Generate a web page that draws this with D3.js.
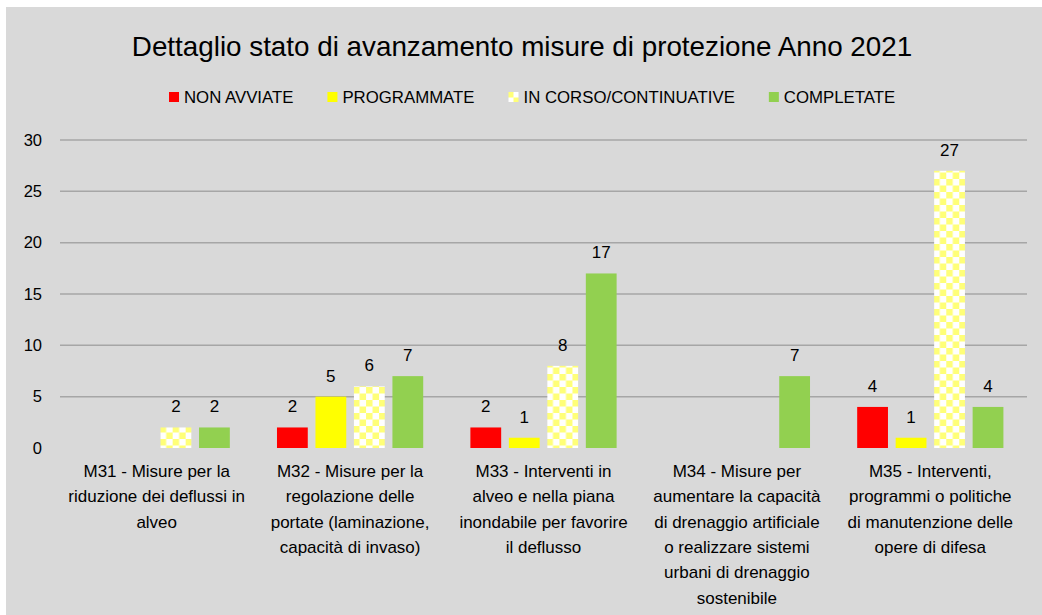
<!DOCTYPE html>
<html>
<head>
<meta charset="utf-8">
<script src="https://cdn.jsdelivr.net/npm/d3@7"></script>
<style>
  body { margin: 0; background: #fff; }
  text { font-family: "Liberation Sans", Arial, sans-serif; fill: #000; }
</style>
</head>
<body>
<div id="chart"></div>
<script>
// data
var categories = [
    "M31 - Misure per la|riduzione dei deflussi in|alveo",
    "M32 - Misure per la|regolazione delle|portate (laminazione,|capacità di invaso)",
    "M33 - Interventi in|alveo e nella piana|inondabile per favorire|il deflusso",
    "M34 - Misure per|aumentare la capacità|di drenaggio artificiale|o realizzare sistemi|urbani di drenaggio|sostenibile",
    "M35 - Interventi,|programmi o politiche|di manutenzione delle|opere di difesa"
];
var seriesNames = ["NON AVVIATE", "PROGRAMMATE", "IN CORSO/CONTINUATIVE", "COMPLETATE"];
var nonAvviate = [null, 2, 2, null, 4];
var programmate = [null, 5, 1, null, 1];
var inCorso = [2, 6, 8, null, 27];
var completate = [2, 7, 17, 7, 4];
var yTicks = [0, 5, 10, 15, 20, 25, 30];

var values = [nonAvviate, programmate, inCorso, completate];
var fills = ["#ff0000", "#ffff00", "url(#checker)", "#92d050"];

var svgWidth = 1042, svgHeight = 615;
var margin = { top: 140, right: 15, bottom: 167, left: 60 };
var width = svgWidth - margin.left - margin.right;
var height = svgHeight - margin.top - margin.bottom;

var svg = d3.select("#chart").append("svg")
    .attr("width", svgWidth)
    .attr("height", svgHeight);

// checker pattern for the "in corso" series
var defs = svg.append("defs");
var pat = defs.append("pattern")
    .attr("id", "checker")
    .attr("patternUnits", "userSpaceOnUse")
    .attr("width", 13)
    .attr("height", 13);
pat.append("rect").attr("width", 13).attr("height", 13).attr("fill", "#ffffff");
pat.append("rect").attr("width", 6.5).attr("height", 6.5).attr("fill", "#ffff78");
pat.append("rect").attr("x", 6.5).attr("y", 6.5).attr("width", 6.5).attr("height", 6.5).attr("fill", "#ffff78");

// chart background
svg.append("rect")
    .attr("x", 6).attr("y", 7)
    .attr("width", svgWidth - 6).attr("height", svgHeight - 7)
    .attr("fill", "#d9d9d9");

// title
svg.append("text")
    .attr("x", 522).attr("y", 56)
    .attr("text-anchor", "middle")
    .style("font-size", "27.8px")
    .text("Dettaglio stato di avanzamento misure di protezione Anno 2021");

// legend
var legend = svg.append("g").attr("class", "legend");
var lx = 169;
seriesNames.forEach(function (name, i) {
    legend.append("rect")
        .attr("x", lx).attr("y", 92)
        .attr("width", 10).attr("height", 10)
        .attr("fill", fills[i]);
    var t = legend.append("text")
        .attr("x", lx + 15).attr("y", 103)
        .style("font-size", "16.8px")
        .text(name);
    lx += 15 + t.node().getComputedTextLength() + 34;
});

var chartGroup = svg.append("g")
    .attr("transform", `translate(${margin.left}, ${margin.top})`);

// scales
var x0 = d3.scaleBand()
    .domain(d3.range(categories.length))
    .range([0, width])
    .paddingInner(0.224)
    .paddingOuter(0.112);

var x1 = d3.scaleBand()
    .domain(d3.range(seriesNames.length))
    .range([0, x0.bandwidth()])
    .paddingInner(0.2)
    .paddingOuter(0.05);

var y = d3.scaleLinear()
    .domain([0, 30])
    .range([height, 0]);

// gridlines
chartGroup.append("g")
    .selectAll("line")
    .data(yTicks.filter(d => d > 0))
    .enter()
    .append("line")
    .attr("x1", 0).attr("x2", width)
    .attr("y1", d => y(d)).attr("y2", d => y(d))
    .attr("stroke", "#a6a6a6")
    .attr("stroke-width", 1.5);

// y axis
var leftAxis = d3.axisLeft(y).tickValues(yTicks).tickSize(0).tickPadding(18);
var yAxis = chartGroup.append("g").call(leftAxis);
yAxis.select(".domain").remove();
yAxis.selectAll("text")
    .style("font-size", "16.5px")
    .style("font-family", "'Liberation Sans', Arial, sans-serif")
    .attr("fill", "#000");

// bars
var groups = chartGroup.append("g")
    .selectAll("g")
    .data(categories)
    .enter()
    .append("g")
    .attr("transform", (d, i) => `translate(${x0(i)}, 0)`);

groups.each(function (cat, ci) {
    var g = d3.select(this);
    var pts = values.map((s, si) => ({ si: si, v: s[ci] })).filter(p => p.v != null);
    g.selectAll("rect")
        .data(pts)
        .enter()
        .append("rect")
        .attr("x", p => x1(p.si))
        .attr("y", p => y(p.v))
        .attr("width", x1.bandwidth())
        .attr("height", p => y(0) - y(p.v))
        .attr("fill", p => fills[p.si]);

    g.selectAll("text.val")
        .data(pts)
        .enter()
        .append("text")
        .attr("class", "val")
        .attr("x", p => x1(p.si) + x1.bandwidth() / 2)
        .attr("y", p => y(p.v) - 15)
        .attr("text-anchor", "middle")
        .style("font-size", "17px")
        .text(p => p.v);
});

// category labels
var catLabels = chartGroup.append("g")
    .selectAll("text")
    .data(categories)
    .enter()
    .append("text")
    .attr("text-anchor", "middle")
    .style("font-size", "17px")
    .attr("x", (d, i) => x0(i) + x0.bandwidth() / 2)
    .attr("y", height + 29);

catLabels.each(function (d) {
    var t = d3.select(this);
    var x = t.attr("x");
    d.split("|").forEach(function (line, li) {
        t.append("tspan")
            .attr("x", x)
            .attr("dy", li === 0 ? 0 : 25.3)
            .text(line);
    });
});
</script>
</body>
</html>
